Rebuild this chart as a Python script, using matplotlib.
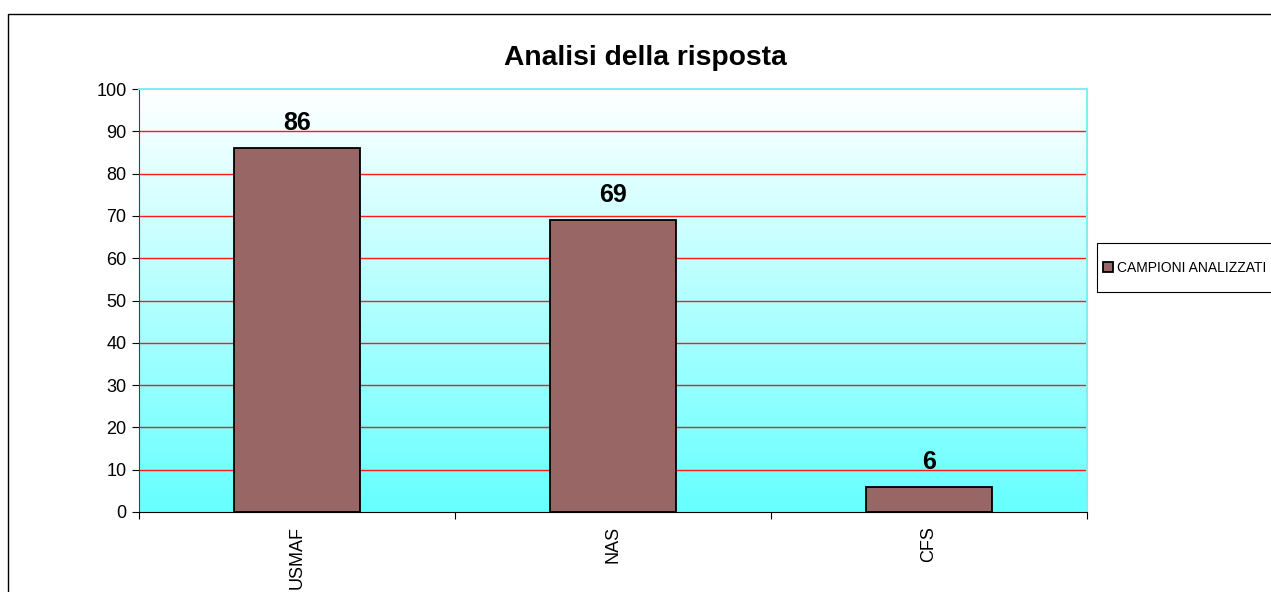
import numpy as np
import matplotlib

matplotlib.use("Agg")
import matplotlib.pyplot as plt
from matplotlib.colors import LinearSegmentedColormap
from matplotlib.patches import Rectangle

plt.rcParams["font.family"] = ["Liberation Sans", "DejaVu Sans"]

categories = ["USMAF", "NAS", "CFS"]
values = [86, 69, 6]
series_name = "CAMPIONI ANALIZZATI"
title = "Analisi della risposta"

BAR = "#996666"
GRID = "#FF1A1A"

fig = plt.figure(figsize=(12.71, 5.92), dpi=100)
# outer chart border (runs off the right and bottom edges, as in the source)
fig.patches.append(Rectangle((8 / 1271, -0.1), 1.2, 1 - 14 / 592 + 0.1,
                             transform=fig.transFigure, fill=False,
                             edgecolor="black", linewidth=1.0))

ax = fig.add_axes([139 / 1271, 1 - 512 / 592, 948 / 1271, 423 / 592])

x = np.arange(len(categories))
ax.set_xlim(-0.5, len(categories) - 0.5)
ax.set_ylim(0, 100)

cmap = LinearSegmentedColormap.from_list("bg", ["#66FFFF", "#FFFFFF"])
grad = np.linspace(0, 1, 256).reshape(-1, 1)
ax.imshow(grad, aspect="auto", cmap=cmap, origin="lower",
          extent=[-0.5, len(categories) - 0.5, 0, 100], zorder=0)

ax.set_yticks(np.arange(0, 101, 10))
for yv in range(10, 100, 10):
    ax.axhline(yv, color=GRID, linewidth=1.0, zorder=1)

bars = ax.bar(x, values, width=0.4, color=BAR, edgecolor="black",
              linewidth=1.3, zorder=3, label=series_name)
for xi, v in zip(x, values):
    ax.text(xi, v + 4.2, f"{v}", ha="center", va="baseline",
            fontsize=18, fontweight="bold", zorder=4)

ax.set_xticks(np.arange(-0.5, len(categories), 1.0), minor=False)
ax.set_xticklabels([])
ax.set_xticks(x, minor=True)
ax.set_xticklabels(categories, minor=True, rotation=90, fontsize=13)
ax.tick_params(axis="x", which="minor", length=0, pad=10)
ax.tick_params(axis="x", which="major", length=5, direction="out")
ax.tick_params(axis="y", length=5, labelsize=13, direction="out", pad=4)

for s in ["top", "right"]:
    ax.spines[s].set_color("#7FEFEF")
    ax.spines[s].set_linewidth(1.5)
ax.spines["left"].set_color("#1F4F4F")
ax.spines["bottom"].set_color("black")

fig.text(645 / 1271, 1 - 58 / 592, title, ha="center",
         va="center", fontsize=20.3, fontweight="bold")

# legend box
fig.patches.append(Rectangle((1097 / 1271, 1 - 292 / 592), 0.2, 49 / 592,
                             transform=fig.transFigure, fill=False,
                             edgecolor="black", linewidth=0.8))
leg = fig.legend(handles=[bars], labels=[series_name],
                 loc="center left", bbox_to_anchor=(1100 / 1271, 1 - 268 / 592),
                 fontsize=10, frameon=False, handlelength=0.75,
                 handleheight=0.75, handletextpad=0.25, borderpad=0.2,
                 borderaxespad=0)

fig.savefig("out.png", dpi=100)
